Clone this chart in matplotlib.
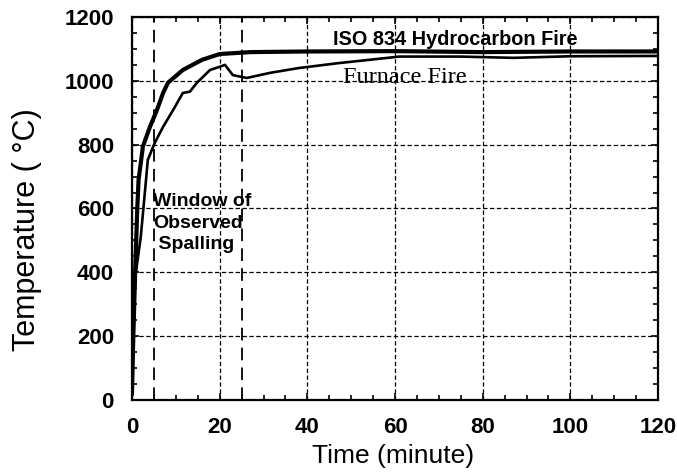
import numpy as np
import matplotlib
matplotlib.use("Agg")
import matplotlib.pyplot as plt
from matplotlib.ticker import MultipleLocator

# ISO 834 hydrocarbon fire curve
t_iso = [0, 0.3, 0.7, 1.2, 1.5, 2.5, 4.1, 5.7, 7.1, 8.2, 11.6, 16, 20, 27, 40, 60, 80, 100, 120]
T_iso = [20, 200, 390, 600, 690, 795, 856, 909, 962, 994, 1034, 1066, 1084, 1090, 1092, 1093, 1090, 1092, 1092]

# measured furnace fire
t_fur = [0, 0.3, 0.7, 2.0, 3.2, 3.6, 5.2, 7.1, 9.4, 11.6, 13.2, 14.8, 17.8, 20, 21.2, 23, 26.2,
         31.5, 38, 46.8, 61, 75, 87, 100, 120]
T_fur = [20, 190, 380, 511, 690, 752, 806, 856, 909, 962, 966, 994, 1034, 1044, 1050, 1018, 1009,
         1025, 1040, 1055, 1076, 1076, 1072, 1077, 1078]

# window of observed spalling (minutes)
window = [5, 25]

plt.rcParams["font.family"] = ["Liberation Sans", "DejaVu Sans"]

fig = plt.figure(figsize=(6.77, 4.74), dpi=100)
ax = fig.add_axes([132 / 677, 1 - 400 / 474, 526 / 677, 383 / 474])

ax.plot(t_iso, T_iso, color="black", linewidth=3.0, solid_joinstyle="round")
ax.plot(t_fur, T_fur, color="black", linewidth=1.9, solid_joinstyle="round")

for w in window:
    ax.axvline(w, color="black", linewidth=1.3, dashes=(7, 4))

ax.set_xlim(0, 120)
ax.set_ylim(0, 1200)
ax.xaxis.set_major_locator(MultipleLocator(20))
ax.xaxis.set_minor_locator(MultipleLocator(5))
ax.yaxis.set_major_locator(MultipleLocator(200))
ax.yaxis.set_minor_locator(MultipleLocator(50))
ax.grid(True, which="major", color="black", linewidth=0.9, dashes=(3.5, 2))

ax.tick_params(which="both", direction="in", top=True, right=True, width=1.2)
ax.tick_params(which="major", length=5)
ax.tick_params(which="minor", length=3.5)
ax.tick_params(axis="x", pad=12)
ax.tick_params(axis="y", pad=13)
for lab in ax.get_xticklabels() + ax.get_yticklabels():
    lab.set_fontweight("bold")
    lab.set_fontsize(16)
for s in ax.spines.values():
    s.set_linewidth(1.6)

ax.set_xlabel("Time (minute)", fontsize=19)
ax.set_ylabel("Temperature ( °C)", fontsize=22)
ax.xaxis.set_label_coords(0.496, -0.115)
ax.yaxis.set_label_coords(-0.171, 0.444)

ax.text(45.9, 1112, "ISO 834 Hydrocarbon Fire", fontsize=14.3, fontweight="bold", ha="left", va="baseline")
ax.text(48.1, 993, "Furnace Fire", fontsize=17.5, family="Liberation Serif", ha="left", va="baseline")
ax.text(4.8, 648, "Window of\nObserved\n Spalling", fontsize=14, fontweight="bold", ha="left", va="top",
        linespacing=1.35)

fig.savefig("out.png", dpi=100)
